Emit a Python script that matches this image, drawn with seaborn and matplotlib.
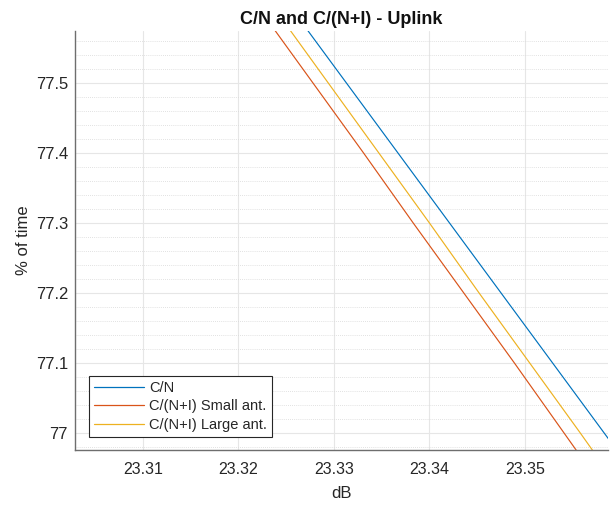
import numpy as np
import pandas as pd
import matplotlib
matplotlib.use("Agg")
import matplotlib.pyplot as plt
import seaborn as sns
from matplotlib.ticker import MultipleLocator, FixedLocator

# ---- data ----
pct = [77.6, 77.5, 77.4, 77.3, 77.2, 77.1, 77.0, 76.95]
cn = [23.3259, 23.3313, 23.3367, 23.3421, 23.3475, 23.3529, 23.3583, 23.3610]
cni_small = [23.3225, 23.3278, 23.3331, 23.3383, 23.3436, 23.3489, 23.3541, 23.3567]
cni_large = [23.3241, 23.3294, 23.3347, 23.3400, 23.3452, 23.3505, 23.3558, 23.3584]
series_names = ["C/N", "C/(N+I) Small ant.", "C/(N+I) Large ant."]
colors = ["#0072BD", "#D95319", "#EDB120"]
x_ticks = [23.31, 23.32, 23.33, 23.34, 23.35]
y_ticks = [77.0, 77.1, 77.2, 77.3, 77.4, 77.5]
y_tick_labels = ["77", "77.1", "77.2", "77.3", "77.4", "77.5"]

df = pd.concat([
    pd.DataFrame({"dB": cn, "pct": pct, "series": series_names[0]}),
    pd.DataFrame({"dB": cni_small, "pct": pct, "series": series_names[1]}),
    pd.DataFrame({"dB": cni_large, "pct": pct, "series": series_names[2]}),
], ignore_index=True)

sns.set_style("white")
plt.rcParams["font.family"] = ["Liberation Sans", "DejaVu Sans"]

fig = plt.figure(figsize=(6.13, 5.05), dpi=100)
ax = fig.add_axes([0.1223, 0.109, 0.8697, 0.8296])

sns.lineplot(data=df, x="dB", y="pct", hue="series", palette=colors,
             hue_order=series_names, estimator=None, sort=False,
             linewidth=0.85, ax=ax)

ax.set_xlim(23.3029, 23.3587)
ax.set_ylim(76.976, 77.574)

ax.xaxis.set_major_locator(FixedLocator(x_ticks))
ax.set_xticklabels([f"{v:.2f}" for v in x_ticks])
ax.yaxis.set_major_locator(FixedLocator(y_ticks))
ax.set_yticklabels(y_tick_labels)
ax.yaxis.set_minor_locator(MultipleLocator(0.02))

ax.grid(True, which="major", color="#e6e6e6", linewidth=0.8, linestyle="-")
ax.grid(True, which="minor", axis="y", color="#d8d8d8", linewidth=0.6, linestyle=(0, (1, 1.5)))
ax.set_axisbelow(True)

ax.tick_params(axis="x", which="major", direction="in", length=4,
               width=0.8, color="#555555", labelsize=11.5, labelcolor="#262626", pad=9)
ax.tick_params(axis="y", which="major", direction="in", length=4,
               width=0.8, color="#555555", labelsize=12, labelcolor="#262626", pad=5)
ax.tick_params(axis="y", which="minor", direction="in", length=2.5,
               width=0.6, color="#555555")

for s in ["top", "right"]:
    ax.spines[s].set_visible(False)
for s in ["left", "bottom"]:
    ax.spines[s].set_color("#6e6e6e")
    ax.spines[s].set_linewidth(1.0)

ax.set_title("C/N and C/(N+I) - Uplink", fontsize=13, fontweight="bold",
             color="#111111", pad=5)
ax.set_xlabel("dB", fontsize=12, color="#262626", labelpad=6)
ax.set_ylabel("% of time", fontsize=12, color="#262626", labelpad=3)

leg = ax.legend(loc="lower left", bbox_to_anchor=(0.026, 0.031), fontsize=10.5,
                frameon=True, fancybox=False, framealpha=1, edgecolor="#262626",
                handlelength=3.4, borderpad=0.35, labelspacing=0.3,
                handletextpad=0.4, borderaxespad=0)
leg.get_frame().set_linewidth(0.8)
for line in leg.get_lines():
    line.set_linewidth(0.9)

fig.savefig("out.png", dpi=100)
